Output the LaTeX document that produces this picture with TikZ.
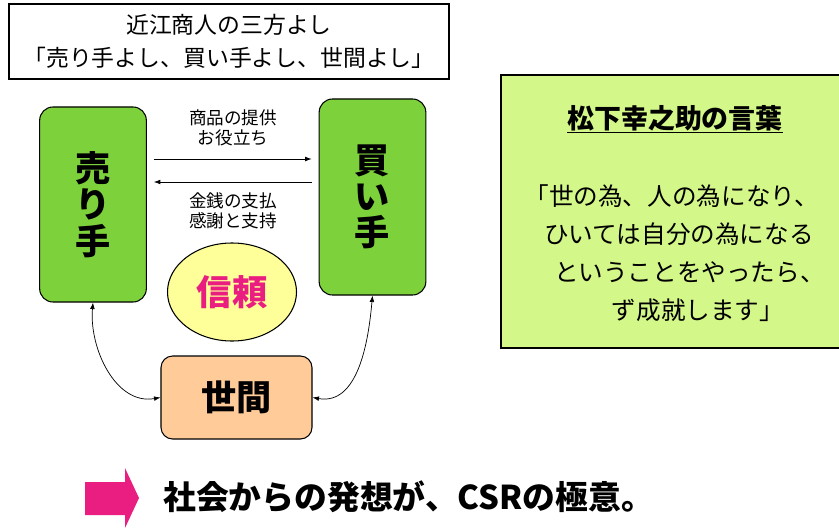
\documentclass[tikz,border=0pt]{standalone}
\usepackage{fontspec}
\setmainfont{Noto Sans CJK JP}
\usetikzlibrary{shapes.geometric,arrows.meta}
\definecolor{leafgreen}{RGB}{125,210,60}
\definecolor{palegreen}{RGB}{212,247,138}
\definecolor{paleyellow}{RGB}{255,255,153}
\definecolor{peach}{RGB}{255,204,153}
\definecolor{hotpink}{RGB}{233,30,128}
\tikzset{
  party/.style={draw=black, line width=0.9pt, fill=leafgreen, rounded corners=0.4cm,
    minimum width=3.2cm, minimum height=5.85cm, align=center,
    font=\fontsize{30}{31}\selectfont\bfseries},
  flowlabel/.style={align=center, font=\fontsize{15}{17.5}\selectfont},
}
\begin{document}
\begin{tikzpicture}[x=0.03cm,y=-0.03cm,>={Latex[length=5.5pt,width=4pt]},line width=0.6pt]
\useasboundingbox (0,0) rectangle (839,529);
% heading box
\node[draw=black, line width=0.9pt, minimum width=13.2cm, minimum height=2.25cm, align=center,
  font=\fontsize{19.5}{28}\selectfont] (sanpo) at (229,41.5)
  {近江商人の三方よし\\「売り手よし、買い手よし、世間よし」};

% the three parties
\node[party] (seller) at (93,204.5) {売\\り\\手};
\node[party, minimum height=5.88cm] (buyer) at (372.5,197) {買\\い\\手};
\node[draw=black, line width=0.9pt, fill=peach, rounded corners=0.35cm, minimum width=4.53cm,
  minimum height=2.49cm, font=\fontsize{30}{31}\selectfont\bfseries] (world) at (236.5,397.5) {世間};
\node[ellipse, draw=black, line width=0.9pt, fill=paleyellow, minimum width=3.87cm, minimum height=2.94cm,
  inner sep=0pt, text=hotpink, font=\fontsize{30}{31}\selectfont\bfseries] (trust) at (232,292) {信頼};

\coordinate (giveline) at (0,159);
\coordinate (payline) at (0,182);
\node[flowlabel] (give) at (233,128) {商品の提供\\お役立ち};
\node[flowlabel] (pay) at (233,211) {金銭の支払\\感謝と支持};

\draw[->, shorten <=0.21cm, shorten >=0.21cm] (seller.east |- giveline) -- (buyer.west |- giveline);
\draw[->, shorten <=0.21cm, shorten >=0.21cm] (buyer.west |- payline) -- (seller.east |- payline);
\draw[<->] (seller.south) to[out=-95, in=190] (world.west);
\draw[<->] (buyer.south) to[out=-95, in=-10] (world.east);

% quote box
\node[draw=black, line width=0.9pt, fill=palegreen, minimum width=10.32cm, minimum height=8.19cm] (quotebox) at (673,211.5) {};
\node[font=\fontsize{23}{26}\selectfont\bfseries] (speaker) at (675,119) {\underline{松下幸之助の言葉}};
\node[align=left, anchor=north west, font=\fontsize{21}{32.5}\selectfont] (quote) at (540,180)
  {\hspace{-0.8em}「世の為、人の為になり、\\ ひいては自分の為になる\\ \hspace{0.4em}ということをやったら、\\ \hspace{2.75em}ず成就します」};

% conclusion
\fill[hotpink] (85,482) -- (125,482) -- (125,468) -- (139,498) -- (125,528) -- (125,515) -- (85,515) -- cycle;
\node[anchor=west, inner sep=0pt, font=\fontsize{28}{30}\selectfont\bfseries] (csr) at (163,497) {社会からの発想が、CSRの極意。};
\end{tikzpicture}
\end{document}
